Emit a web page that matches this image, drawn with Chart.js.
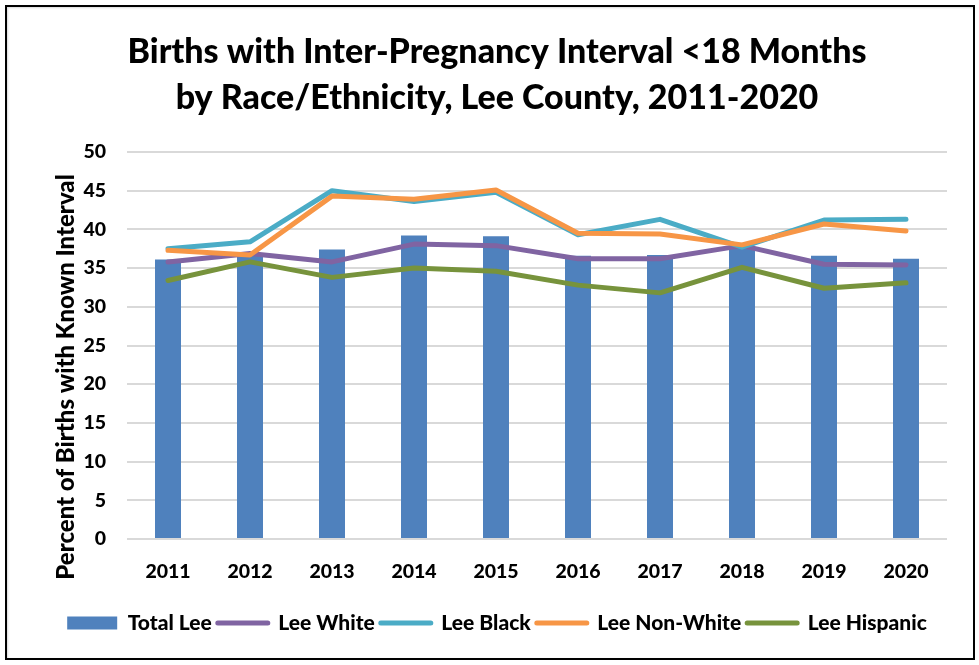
<!DOCTYPE html>
<html>
<head>
<meta charset="utf-8">
<title>Inter-Pregnancy Interval, Lee County</title>
<script src="https://cdn.jsdelivr.net/npm/chart.js@4/dist/chart.umd.min.js"></script>
<style>
  html, body { margin: 0; padding: 0; background: #fff; }
  .frame {
    position: absolute; left: 5px; top: 5px;
    width: 966px; height: 651px;
    border: 2px solid #000;
    box-shadow: inset 1px 1px 2px rgba(0,0,0,0.15);
  }
  canvas { display: block; }
</style>
</head>
<body>
<div class="frame">
  <canvas id="ipiChart" width="966" height="651"></canvas>
</div>
<script>
// Data, percent of births with known interval
const years = ['2011', '2012', '2013', '2014', '2015', '2016', '2017', '2018', '2019', '2020'];
const totalLee     = [36.1, 36.8, 37.4, 39.2, 39.1, 36.6, 36.7, 37.9, 36.6, 36.2];
const leeWhite     = [35.8, 36.9, 35.8, 38.1, 37.9, 36.2, 36.2, 37.9, 35.5, 35.4];
const leeBlack     = [37.5, 38.4, 45.0, 43.6, 44.8, 39.3, 41.3, 37.7, 41.2, 41.3];
const leeNonWhite  = [37.3, 36.7, 44.3, 43.9, 45.1, 39.5, 39.4, 38.0, 40.7, 39.8];
const leeHispanic  = [33.4, 35.8, 33.8, 35.0, 34.6, 32.8, 31.8, 35.1, 32.4, 33.1];
const yTicks = [0, 5, 10, 15, 20, 25, 30, 35, 40, 45, 50];

const titleLines = ['Births with Inter-Pregnancy Interval <18 Months', 'by Race/Ethnicity, Lee County, 2011-2020'];
const yAxisTitle = 'Percent of Births with Known Interval';

const FONT = 'Lato, "Open Sans", sans-serif';
const WEIGHT = 900;

// rotated y-axis caption, centred on plot plus tick labels
const yTitlePlugin = {
  id: 'yTitle',
  afterDraw(chart) {
    const ctx = chart.ctx;
    ctx.save();
    ctx.translate(59, 370);
    ctx.rotate(-Math.PI / 2);
    ctx.font = WEIGHT + ' 24px ' + FONT;
    ctx.fillStyle = '#000';
    ctx.textAlign = 'center';
    ctx.textBaseline = 'middle';
    ctx.fillText(yAxisTitle, 0, 0);
    ctx.restore();
  }
};

function lineSet(label, data, color, order) {
  return {
    type: 'line',
    label: label,
    data: data,
    borderColor: color,
    backgroundColor: color,
    borderWidth: 5,
    borderCapStyle: 'round',
    borderJoinStyle: 'round',
    pointRadius: 0,
    pointHoverRadius: 0,
    tension: 0,
    fill: false,
    order: order
  };
}

const ctx = document.getElementById('ipiChart').getContext('2d');
new Chart(ctx, {
  data: {
    labels: years,
    datasets: [
      {
        type: 'bar',
        label: 'Total Lee',
        data: totalLee,
        backgroundColor: '#4F81BD',
        borderWidth: 0,
        categoryPercentage: 1,
        barPercentage: 0.317,
        order: 5
      },
      lineSet('Lee White', leeWhite, '#8064A2', 4),
      lineSet('Lee Black', leeBlack, '#4BACC6', 3),
      lineSet('Lee Non-White', leeNonWhite, '#F79646', 2),
      lineSet('Lee Hispanic', leeHispanic, '#77933C', 1)
    ]
  },
  options: {
    responsive: false,
    animation: false,
    layout: { padding: { left: 40, right: 26, top: 0, bottom: 14.5 } },
    plugins: {
      tooltip: { enabled: false },
      title: {
        display: true,
        text: titleLines,
        color: '#000',
        font: { family: FONT, size: 34, weight: WEIGHT, lineHeight: 46 / 34 },
        padding: { top: 22, bottom: 31 }
      },
      legend: {
        position: 'bottom',
        labels: {
          color: '#000',
          font: { family: FONT, size: 21, weight: WEIGHT },
          usePointStyle: true,
          pointStyleWidth: 50,
          boxHeight: 13,
          padding: 6,
          generateLabels(chart) {
            return chart.data.datasets.map((ds, i) => {
              const isBar = ds.type === 'bar';
              return {
                text: ds.label,
                datasetIndex: i,
                fillStyle: ds.backgroundColor,
                strokeStyle: isBar ? ds.backgroundColor : ds.borderColor,
                lineWidth: isBar ? 0 : 5,
                lineCap: 'round',
                pointStyle: isBar ? 'rect' : 'line',
                fontColor: '#000',
                hidden: false
              };
            });
          }
        }
      }
    },
    scales: {
      x: {
        grid: { display: false, drawTicks: false },
        border: { display: false },
        ticks: {
          color: '#000',
          padding: 21,
          font: { family: FONT, size: 19.5, weight: WEIGHT }
        },
        afterFit(scale) { scale.height = 67.5; }
      },
      y: {
        min: 0,
        max: 50,
        grid: { color: '#D9D9D9', lineWidth: 2, drawTicks: false },
        border: { display: false },
        afterBuildTicks(scale) { scale.ticks = yTicks.map(v => ({ value: v })); },
        ticks: {
          color: '#000',
          padding: 21,
          font: { family: FONT, size: 19.5, weight: WEIGHT }
        },
        afterFit(scale) { scale.width = 80; }
      }
    }
  },
  plugins: [yTitlePlugin]
});
</script>
</body>
</html>
